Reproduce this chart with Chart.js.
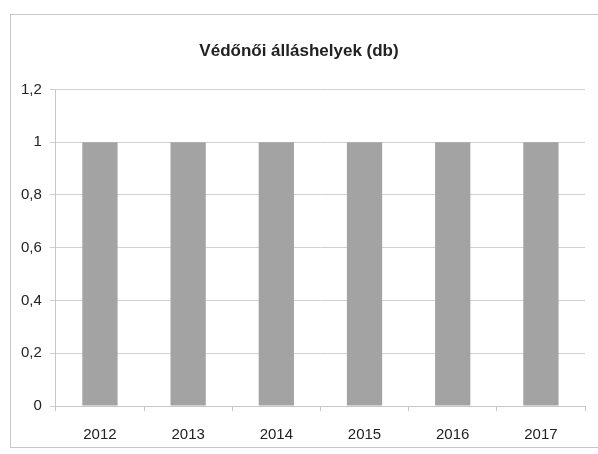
<!DOCTYPE html>
<html>
<head>
<meta charset="utf-8">
<script src="https://cdn.jsdelivr.net/npm/chart.js@4"></script>
<style>
html, body { margin: 0; padding: 0; background: #fff; }
#box { position: absolute; left: 10px; top: 14px; width: 590px; height: 434px; border: 1px solid #c8c8c8; border-right: none; box-sizing: border-box; }
#wrap { position: absolute; left: 0; top: 0; width: 588px; height: 432px; }
</style>
</head>
<body>
<div id="box"><div id="wrap"><canvas id="MyChart"></canvas></div></div>
<script>
const years = ['2012', '2013', '2014', '2015', '2016', '2017'];
const positions = [1, 1, 1, 1, 1, 1];
const yTicks = [0, 0.2, 0.4, 0.6, 0.8, 1, 1.2];

const font = "'Liberation Sans', Arial, sans-serif";
const ctx = document.getElementById('MyChart').getContext('2d');
const myChart = new Chart(ctx, {
    type: 'bar',
    data: {
        labels: years,
        datasets: [{
            label: 'Védőnői álláshelyek (db)',
            data: positions,
            backgroundColor: '#a3a3a3',
            borderWidth: 0,
            categoryPercentage: 1,
            barPercentage: 0.4
        }]
    },
    options: {
        responsive: true,
        maintainAspectRatio: false,
        animation: false,
        layout: { padding: { left: 2, right: 14, top: 8, bottom: -12 } },
        plugins: {
            legend: { display: false },
            tooltip: { enabled: false },
            title: {
                display: true,
                text: 'Védőnői álláshelyek (db)',
                color: '#222',
                font: { family: font, size: 17, weight: 'bold' },
                padding: { top: 18, bottom: 28 }
            }
        },
        scales: {
            x: {
                grid: { display: true, drawOnChartArea: false, color: '#c8c8c8', tickLength: 5, offset: true },
                border: { color: '#c8c8c8' },
                ticks: { color: '#222', font: { family: font, size: 15 }, padding: 15 }
            },
            y: {
                min: 0,
                max: 1.2,
                afterBuildTicks: axis => { axis.ticks = yTicks.map(v => ({ value: v })); },
                grid: { color: '#d0d0d0', tickLength: 6 },
                border: { color: '#c8c8c8' },
                ticks: {
                    color: '#222',
                    font: { family: font, size: 15 },
                    padding: 8,
                    callback: v => String(v).replace('.', ',')
                }
            }
        }
    }
});
</script>
</body>
</html>
